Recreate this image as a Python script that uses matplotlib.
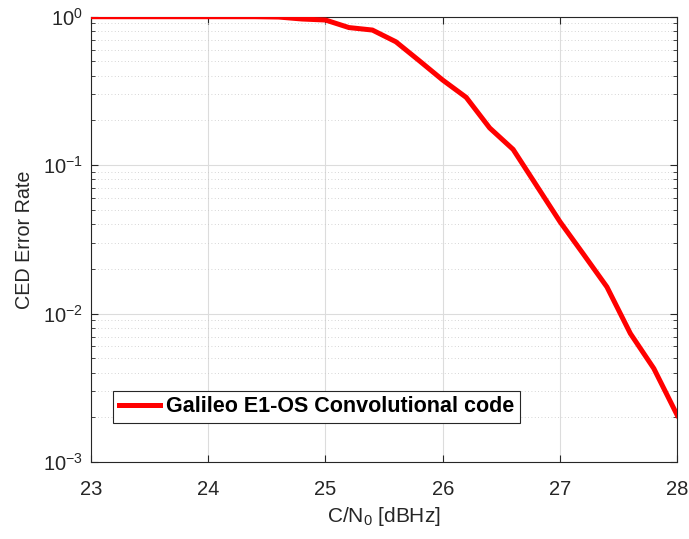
#!/usr/bin/env python3
import matplotlib
matplotlib.use("Agg")
import matplotlib.pyplot as plt
from matplotlib.ticker import LogLocator, NullFormatter

plt.rcParams["font.family"] = ["Liberation Sans", "DejaVu Sans"]
plt.rcParams["mathtext.fontset"] = "custom"
plt.rcParams["mathtext.rm"] = "Liberation Sans"
plt.rcParams["mathtext.it"] = "Liberation Sans"

# C/N0 [dBHz] and CED error rate
cn0 = [23.0, 23.2, 23.4, 23.6, 23.8, 24.0, 24.2, 24.4, 24.6, 24.8, 25.0,
       25.2, 25.4, 25.6, 25.8, 26.0, 26.2, 26.4, 26.6, 26.8, 27.0, 27.2,
       27.4, 27.6, 27.8, 28.0]
err_rate = [1.0, 1.0, 1.0, 1.0, 1.0, 1.0, 1.0, 1.0, 0.995, 0.965, 0.95,
            0.845, 0.813, 0.678, 0.505, 0.374, 0.286, 0.178, 0.1276, 0.0728,
            0.0415, 0.0251, 0.0151, 0.00733, 0.00426, 0.00206]
series_label = "Galileo E1-OS Convolutional code"

RED = "#ff0000"
INK = "#262626"

fig = plt.figure(figsize=(6.89, 5.39), dpi=100)
ax = fig.add_axes([0.132, 0.143, 0.851, 0.826])

ax.semilogy(cn0, err_rate, color=RED, lw=3.6, label=series_label,
            solid_joinstyle="miter", zorder=3)

ax.set_xlim(23, 28)
ax.set_ylim(1e-3, 1)
ax.set_xticks([23, 24, 25, 26, 27, 28])
ax.yaxis.set_major_locator(LogLocator(base=10, numticks=10))
ax.yaxis.set_minor_locator(LogLocator(base=10, subs=range(2, 10), numticks=20))
ax.yaxis.set_minor_formatter(NullFormatter())

ax.grid(True, which="major", color="#dcdcdc", lw=0.8, ls="-")
ax.grid(True, which="minor", axis="y", color="#c8c8c8", lw=0.6, ls=(0, (1, 3)))
ax.set_axisbelow(True)

ax.tick_params(which="both", direction="in", top=True, right=True,
               colors=INK, labelsize=14.5)
ax.tick_params(which="major", length=5)
ax.tick_params(which="minor", length=3)
ax.tick_params(axis="x", pad=13)
ax.tick_params(axis="y", pad=6)
for s in ax.spines.values():
    s.set_color(INK)
    s.set_linewidth(0.8)

ax.set_xlabel(r"C/N$_0$ [dBHz]", fontsize=15, color=INK, labelpad=4)
ax.set_ylabel("CED Error Rate", fontsize=14.2, color=INK, labelpad=6)

leg = ax.legend(loc="lower left", bbox_to_anchor=(0.038, 0.088),
                prop={"weight": "bold", "size": 15.5}, fancybox=False,
                framealpha=1, edgecolor=INK, borderpad=0.25,
                handlelength=1.9, handletextpad=0.3, borderaxespad=0)
leg.get_frame().set_linewidth(0.8)

fig.savefig("out.png", dpi=100)
